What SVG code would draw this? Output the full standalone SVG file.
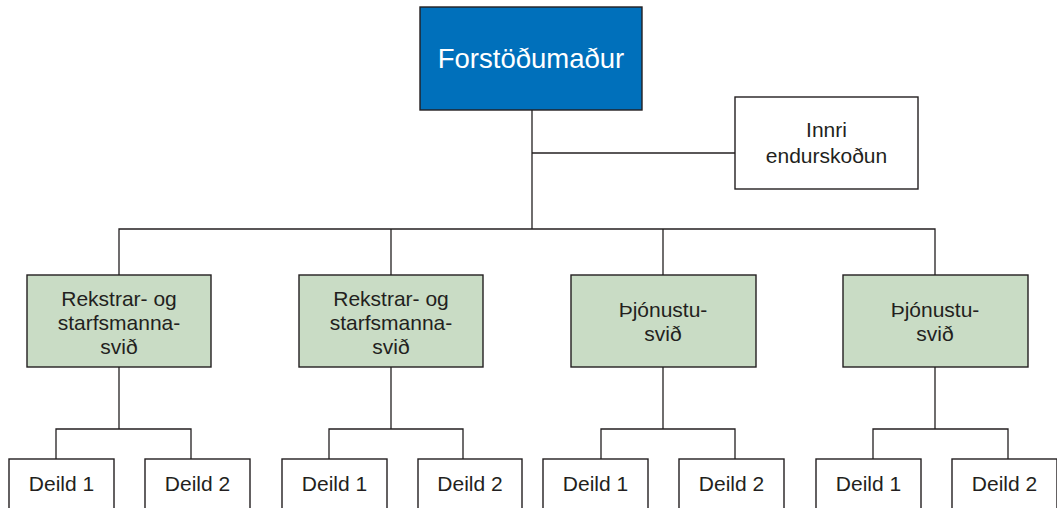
<svg xmlns="http://www.w3.org/2000/svg" width="1057" height="508" viewBox="0 0 1057 508">
  <style>
    .box { stroke: #231f20; stroke-width: 1.4; }
    .head { fill: #0070bb; }
    .plain { fill: #ffffff; }
    .div { fill: #c9dcc5; }
    .lbl { font-family: "Liberation Sans", Arial, sans-serif; font-size: 21px; fill: #231f20; text-anchor: middle; }
    .lbl-head { font-family: "Liberation Sans", Arial, sans-serif; font-size: 27.5px; fill: #ffffff; text-anchor: middle; }
    .wire { fill: none; stroke: #231f20; stroke-width: 1.3; }
  </style>

  <!-- connectors -->
  <g id="connectors" class="wire">
    <path d="M532 110 V229"/>
    <path d="M532 153 H735"/>
    <path d="M119 275 V229 H935 V275"/>
    <path d="M391 229 V275"/>
    <path d="M663 229 V275"/>
    <!-- division to department branches -->
    <path d="M119 367 V429"/>
    <path d="M56 459 V429 H191 V459"/>
    <path d="M391 367 V429"/>
    <path d="M329 459 V429 H463 V459"/>
    <path d="M663 367 V429"/>
    <path d="M601 459 V429 H735 V459"/>
    <path d="M935 367 V429"/>
    <path d="M873 459 V429 H1008 V459"/>
  </g>

  <g id="forstodumadur">
    <rect class="box head" x="420" y="7" width="222" height="103"/>
    <text class="lbl-head" x="531" y="68">Forstöðumaður</text>
  </g>

  <g id="innri-endurskodun">
    <rect class="box plain" x="735" y="97" width="183" height="92"/>
    <text class="lbl" x="826.5" y="137">Innri</text>
    <text class="lbl" x="826.5" y="163">endurskoðun</text>
  </g>

  <g id="svid-1">
    <rect class="box div" x="27" y="275" width="184" height="92"/>
    <text class="lbl" x="119" y="306">Rekstrar- og</text>
    <text class="lbl" x="119" y="330">starfsmanna-</text>
    <text class="lbl" x="119" y="354">svið</text>
  </g>

  <g id="svid-2">
    <rect class="box div" x="299" y="275" width="184" height="92"/>
    <text class="lbl" x="391" y="306">Rekstrar- og</text>
    <text class="lbl" x="391" y="330">starfsmanna-</text>
    <text class="lbl" x="391" y="354">svið</text>
  </g>

  <g id="svid-3">
    <rect class="box div" x="571" y="275" width="185" height="92"/>
    <text class="lbl" x="663" y="317">Þjónustu-</text>
    <text class="lbl" x="663" y="341">svið</text>
  </g>

  <g id="svid-4">
    <rect class="box div" x="843" y="275" width="185" height="92"/>
    <text class="lbl" x="935" y="317">Þjónustu-</text>
    <text class="lbl" x="935" y="341">svið</text>
  </g>

  <g id="deild-1-1">
    <rect class="box plain" x="9" y="459" width="105" height="60"/>
    <text class="lbl" x="61.5" y="491">Deild 1</text>
  </g>
  <g id="deild-1-2">
    <rect class="box plain" x="145" y="459" width="105" height="60"/>
    <text class="lbl" x="197.5" y="491">Deild 2</text>
  </g>

  <g id="deild-2-1">
    <rect class="box plain" x="282" y="459" width="105" height="60"/>
    <text class="lbl" x="334.5" y="491">Deild 1</text>
  </g>
  <g id="deild-2-2">
    <rect class="box plain" x="418" y="459" width="104" height="60"/>
    <text class="lbl" x="470" y="491">Deild 2</text>
  </g>

  <g id="deild-3-1">
    <rect class="box plain" x="543" y="459" width="105" height="60"/>
    <text class="lbl" x="595.5" y="491">Deild 1</text>
  </g>
  <g id="deild-3-2">
    <rect class="box plain" x="679" y="459" width="105" height="60"/>
    <text class="lbl" x="731.5" y="491">Deild 2</text>
  </g>

  <g id="deild-4-1">
    <rect class="box plain" x="816" y="459" width="105" height="60"/>
    <text class="lbl" x="868.5" y="491">Deild 1</text>
  </g>
  <g id="deild-4-2">
    <rect class="box plain" x="952" y="459" width="105" height="60"/>
    <text class="lbl" x="1004.5" y="491">Deild 2</text>
  </g>
</svg>
